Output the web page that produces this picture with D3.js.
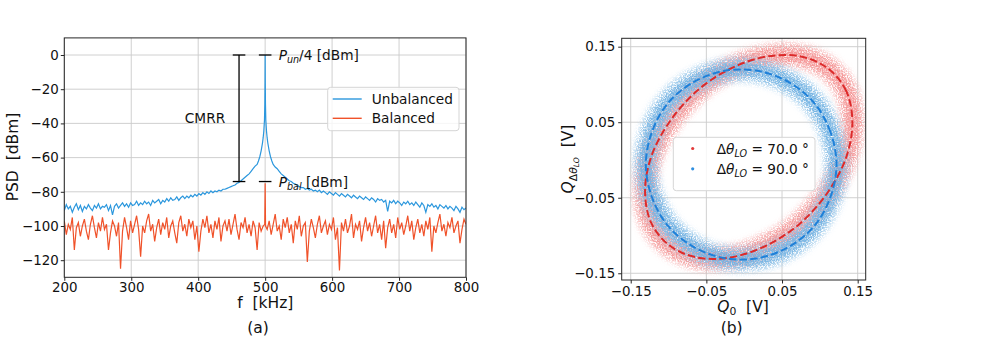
<!DOCTYPE html>
<html>
<head>
<meta charset="utf-8">
<script src="https://cdn.jsdelivr.net/npm/d3@7"></script>
<style>
    body { margin: 0; background: #fff; }
    svg { font-family: "DejaVu Sans", sans-serif; }
    text { white-space: pre; }
    .axis line { stroke: #262626; }
    .axis text { font-family: "DejaVu Sans", sans-serif; font-size: 13.4px; fill: #111; }
    .grid line { stroke: #cbcbcb; stroke-width: 0.9; }
    .lbl { font-size: 15.5px; fill: #111; }
    .leg { font-size: 13.7px; fill: #111; }
</style>
</head>
<body>
<svg width="997" height="338"></svg>
<script>
// ---- (a) PSD data, 200..800 kHz every 3 kHz ----
var freq = d3.range(200, 801, 3);

var unbalanced = [
    -91, -87.5, -90, -88.5, -92, -89, -87, -90.5, -88, -91.5,
    -88.5, -90, -87.5, -89.5, -91, -88, -89.5, -87, -90, -88.5,
    -89, -87.5, -91, -88, -93.5, -88.5, -87, -89.5, -88, -86.5,
    -88.5, -87, -89, -86.5, -88, -87.5, -85.5, -88, -86.5, -87.5,
    -85.5, -87, -86, -88, -85, -86.5, -85.5, -84.5, -87, -85,
    -86, -84, -85.5, -83.5, -85, -84.5, -83, -85, -83.5, -82.5,
    -84, -82.5, -83.5, -82, -83, -81.5, -82.5, -81, -82, -80.5,
    -81.5, -80, -81, -79.5, -80.5, -79.5, -80, -79, -79.5, -78.5,
    -78.5, -78, -77.5, -77, -76.5, -76, -75, -74.5, -73.5, -72.5,
    -71.5, -70.5, -69.5, -68, -66.5, -65, -63, -61, -57, -49,
    0, -49, -57, -61, -63, -65.5, -66.5, -68, -69.5, -70.5,
    -71.5, -72.5, -73.5, -74, -75, -75.5, -76.5, -77, -77.5, -77.5,
    -78.5, -78, -79, -78.5, -79.5, -79, -80, -79, -80.5, -79.5,
    -80.5, -81.5, -80, -81, -82, -80.5, -81.5, -82.5, -81, -82,
    -83, -81.5, -82.5, -83.5, -82, -83, -84, -82.5, -83.5, -84.5,
    -83, -84, -85, -83.5, -84.5, -86, -84, -85, -84.5, -86,
    -85, -91.5, -85.5, -86.5, -85, -87, -85.5, -86.5, -88, -86,
    -87, -85.5, -87.5, -86.5, -88, -86, -87.5, -89, -86.5, -88,
    -92, -87.5, -88.5, -87, -89, -88, -90, -87.5, -88.5, -89.5,
    -88, -90, -88.5, -89.5, -91, -88.5, -90, -92, -89, -90.5,
    -89.5
];

var balanced = [
    -97, -105, -99, -102, -95, -114, -101, -98, -106, -100,
    -96, -103, -108, -99, -94, -101, -107, -98, -103, -95,
    -102, -99, -114, -104, -97, -100, -106, -98, -125, -103,
    -95, -101, -108, -97, -104, -99, -94, -102, -118, -100,
    -104, -97, -93, -103, -99, -109, -101, -96, -105, -98,
    -102, -95, -107, -100, -97, -104, -110, -98, -94, -103,
    -99, -106, -96, -101, -97, -108, -100, -115, -103, -96,
    -101, -94, -104, -99, -107, -97, -102, -95, -109, -100,
    -97, -103, -96, -105, -99, -93, -102, -108, -98, -101,
    -95, -104, -99, -106, -97, -101, -114, -98, -103, -100,
    -75, -102, -97, -105, -99, -93, -103, -100, -108, -96,
    -101, -95, -104, -99, -110, -97, -102, -94, -106, -100,
    -98, -121, -103, -96, -101, -107, -99, -94, -104, -100,
    -97, -105, -99, -102, -95, -108, -101, -126, -98, -103,
    -96, -104, -100, -93, -107, -99, -102, -97, -109, -101,
    -95, -103, -98, -106, -100, -94, -104, -99, -108, -97,
    -113, -101, -96, -104, -99, -107, -95, -102, -98, -105,
    -100, -94, -103, -97, -108, -101, -96, -104, -99, -106,
    -97, -102, -95, -115, -100, -104, -98, -93, -103, -99,
    -106, -98, -101, -95, -104, -100, -97, -110, -102, -96,
    -99
];

// finer points around the carrier peak
var peakFreq = [488, 490, 492, 494, 496, 497, 498, 499, 499.5, 499.8, 500, 500.2, 500.5, 501, 502, 503, 504, 506, 508, 510, 512];
var peakUnb = [-64, -62, -59.5, -56, -51.5, -48.5, -44.5, -38, -29, -16, 0, -16, -29, -38, -44.5, -48.5, -51.5, -56, -59.5, -62, -64];
var peakBalFreq = [499.4, 500, 500.6];
var peakBal = [-99, -75, -100];

var xTicksA = [200, 300, 400, 500, 600, 700, 800];
var yTicksA = [0, -20, -40, -60, -80, -100, -120];

// ---- (b) quadrature ellipses, points read around the dashed fits ----
var red70X = [0.143, 0.135, 0.111, 0.075, 0.030, -0.018, -0.063, -0.099, -0.123, -0.131, -0.123, -0.099, -0.063, -0.018, 0.030, 0.075, 0.111, 0.135];
var red70Y = [0.050, 0.091, 0.121, 0.137, 0.137, 0.121, 0.091, 0.050, 0.004, -0.042, -0.083, -0.113, -0.129, -0.129, -0.113, -0.083, -0.042, 0.004];
var blue90X = [0.122, 0.114, 0.093, 0.059, 0.018, -0.026, -0.067, -0.101, -0.122, -0.130, -0.122, -0.101, -0.067, -0.026, 0.018, 0.059, 0.093, 0.114];
var blue90Y = [-0.006, 0.037, 0.075, 0.103, 0.118, 0.118, 0.103, 0.075, 0.037, -0.006, -0.049, -0.087, -0.115, -0.130, -0.130, -0.115, -0.087, -0.049];

var ticksB = [-0.15, -0.05, 0.05, 0.15];

var svg = d3.select("svg");
var defs = svg.append("defs");

// ================= panel (a) =================
var xA = d3.scaleLinear().domain([200, 800]).range([64.3, 466]),
    yA = d3.scaleLinear().domain([-130, 10]).range([277.3, 37.9]);

defs.append("clipPath").attr("id", "clipA")
    .append("rect")
    .attr("x", xA(200)).attr("y", yA(10))
    .attr("width", xA(800) - xA(200)).attr("height", yA(-130) - yA(10));

var gA = svg.append("g");

gA.append("g").attr("class", "grid")
    .selectAll("line").data(xTicksA).enter().append("line")
    .attr("x1", function (d) { return xA(d); }).attr("x2", function (d) { return xA(d); })
    .attr("y1", yA(10)).attr("y2", yA(-130));
gA.append("g").attr("class", "grid")
    .selectAll("line").data(yTicksA).enter().append("line")
    .attr("y1", function (d) { return yA(d); }).attr("y2", function (d) { return yA(d); })
    .attr("x1", xA(200)).attr("x2", xA(800));

function byF(a, b) { return a[0] - b[0]; }

var unbPts = freq.map(function (f, i) { return [f, unbalanced[i]]; })
    .filter(function (p) { return p[0] < 487 || p[0] > 513; })
    .concat(peakFreq.map(function (f, i) { return [f, peakUnb[i]]; }))
    .sort(byF);
var balPts = freq.map(function (f, i) { return [f, balanced[i]]; })
    .filter(function (p) { return p[0] !== 500; })
    .concat(peakBalFreq.map(function (f, i) { return [f, peakBal[i]]; }))
    .sort(byF);

var lineA = d3.line()
    .x(function (d) { return xA(d[0]); })
    .y(function (d) { return yA(d[1]); });

var dataA = gA.append("g").attr("clip-path", "url(#clipA)");
dataA.append("path").datum(unbPts)
    .attr("d", lineA).attr("fill", "none")
    .attr("stroke", "#2b97dd").attr("stroke-width", 1.2);
dataA.append("path").datum(balPts)
    .attr("d", lineA).attr("fill", "none")
    .attr("stroke", "#f0522a").attr("stroke-width", 1.2);

// CMRR bracket and level markers
var cmrrF = 461, peakF = 500, topDb = 0, botDb = -74;
var ann = gA.append("g").attr("stroke", "#000").attr("stroke-width", 1.3);
ann.append("line").attr("x1", xA(cmrrF)).attr("x2", xA(cmrrF)).attr("y1", yA(topDb)).attr("y2", yA(botDb));
[[cmrrF, topDb], [cmrrF, botDb], [peakF, topDb], [peakF, botDb]].forEach(function (c) {
    ann.append("line")
        .attr("x1", xA(c[0]) - 6.3).attr("x2", xA(c[0]) + 6.3)
        .attr("y1", yA(c[1])).attr("y2", yA(c[1]));
});

var tUn = gA.append("text").attr("class", "leg").attr("x", xA(peakF) + 13.5).attr("y", yA(topDb) + 5);
tUn.append("tspan").attr("font-style", "italic").text("P");
tUn.append("tspan").attr("font-style", "italic").attr("font-size", "9.6px").attr("dy", 3).text("un");
tUn.append("tspan").attr("dy", -3).text("/4 [dBm]");

var tBal = gA.append("text").attr("class", "leg").attr("x", xA(peakF) + 13.5).attr("y", yA(botDb) + 5);
tBal.append("tspan").attr("font-style", "italic").text("P");
tBal.append("tspan").attr("font-style", "italic").attr("font-size", "9.6px").attr("dy", 3).text("bal");
tBal.append("tspan").attr("dy", -3).text(" [dBm]");

gA.append("text").attr("class", "leg").attr("x", 205).attr("y", 123)
    .attr("text-anchor", "middle").text("CMRR");

// axes
var axA = gA.append("g").attr("class", "axis").attr("transform", "translate(0," + yA(-130) + ")")
    .call(d3.axisBottom(xA).tickValues(xTicksA).tickSize(3.5).tickPadding(2).tickSizeOuter(0));
axA.select(".domain").remove();
var ayA = gA.append("g").attr("class", "axis").attr("transform", "translate(" + xA(200) + ",0)")
    .call(d3.axisLeft(yA).tickValues(yTicksA).tickSize(3.5).tickPadding(2).tickSizeOuter(0));
ayA.select(".domain").remove();
gA.append("rect")
    .attr("x", xA(200)).attr("y", yA(10))
    .attr("width", xA(800) - xA(200)).attr("height", yA(-130) - yA(10))
    .attr("fill", "none").attr("stroke", "#262626").attr("stroke-width", 1);

gA.append("text").attr("class", "lbl").attr("x", 265.3).attr("y", 308)
    .attr("text-anchor", "middle").text("f  [kHz]");
gA.append("text").attr("class", "lbl")
    .attr("transform", "translate(17.5,157) rotate(-90)")
    .attr("text-anchor", "middle").text("PSD  [dBm]");
gA.append("text").attr("class", "lbl").attr("x", 258).attr("y", 333)
    .attr("text-anchor", "middle").text("(a)");

// legend (a)
var legA = gA.append("g");
legA.append("rect").attr("x", 327.7).attr("y", 87.3).attr("width", 131.3).attr("height", 43.4)
    .attr("rx", 3).attr("fill", "#fff").attr("fill-opacity", 0.8).attr("stroke", "#d5d5d5");
[["Unbalanced", "#2b97dd", 99], ["Balanced", "#f0522a", 118.3]].forEach(function (r) {
    legA.append("line").attr("x1", 332.7).attr("x2", 361.7).attr("y1", r[2]).attr("y2", r[2])
        .attr("stroke", r[1]).attr("stroke-width", 1.4);
    legA.append("text").attr("class", "leg").attr("x", 371.7).attr("y", r[2] + 5).text(r[0]);
});

// ================= panel (b) =================
var xB = d3.scaleLinear().domain([-0.1619, 0.1606]).range([621.7, 865.7]),
    yB = d3.scaleLinear().domain([-0.1589, 0.1611]).range([280, 38.3]);

defs.append("clipPath").attr("id", "clipB")
    .append("rect")
    .attr("x", 621.7).attr("y", 38.3).attr("width", 244).attr("height", 241.7);

// grainy texture for the dense point clouds
function speckle(id, seed, blur, gain, off) {
    var f = defs.append("filter").attr("id", id)
        .attr("filterUnits", "userSpaceOnUse")
        .attr("x", 600).attr("y", 20).attr("width", 290).attr("height", 280);
    f.append("feGaussianBlur").attr("in", "SourceGraphic").attr("stdDeviation", blur).attr("result", "soft");
    f.append("feTurbulence").attr("type", "fractalNoise").attr("baseFrequency", 0.8)
        .attr("numOctaves", 2).attr("seed", seed).attr("result", "noise");
    f.append("feColorMatrix").attr("in", "noise").attr("type", "matrix")
        .attr("values", "0 0 0 0 0  0 0 0 0 0  0 0 0 0 0  " + gain + " 0 0 0 " + off)
        .attr("result", "mask");
    f.append("feComposite").attr("in", "soft").attr("in2", "mask").attr("operator", "in");
}
speckle("speckR", 3, 3, 4, -1.4);
speckle("speckB", 8, 3, 4, -1.4);
speckle("coreR", 5, 1.5, 4, -1.0);
speckle("coreB", 11, 1.5, 4, -1.0);

var gB = svg.append("g");

gB.append("g").attr("class", "grid")
    .selectAll("line").data(ticksB).enter().append("line")
    .attr("x1", function (d) { return xB(d); }).attr("x2", function (d) { return xB(d); })
    .attr("y1", 38.3).attr("y2", 280);
gB.append("g").attr("class", "grid")
    .selectAll("line").data(ticksB).enter().append("line")
    .attr("y1", function (d) { return yB(d); }).attr("y2", function (d) { return yB(d); })
    .attr("x1", 621.7).attr("x2", 865.7);

var lineB = d3.line()
    .x(function (d) { return xB(d[0]); })
    .y(function (d) { return yB(d[1]); })
    .curve(d3.curveCatmullRomClosed);

var redPts = red70X.map(function (x, i) { return [x, red70Y[i]]; });
var bluePts = blue90X.map(function (x, i) { return [x, blue90Y[i]]; });

var dataB = gB.append("g").attr("clip-path", "url(#clipB)");

// point clouds
[[redPts, "#f48a8a", "#f6a6a6", "R"], [bluePts, "#5aa5de", "#8fc2e8", "B"]].forEach(function (c) {
    dataB.append("path").datum(c[0]).attr("d", lineB).attr("fill", "none")
        .attr("stroke", c[2]).attr("stroke-width", 24).attr("filter", "url(#speck" + c[3] + ")");
    dataB.append("path").datum(c[0]).attr("d", lineB).attr("fill", "none")
        .attr("stroke", c[1]).attr("stroke-width", 13).attr("stroke-opacity", 0.5)
        .attr("filter", "url(#core" + c[3] + ")");
});

// fitted ellipses
dataB.append("path").datum(redPts).attr("d", lineB).attr("fill", "none")
    .attr("stroke", "#dc2b2b").attr("stroke-width", 2).attr("stroke-dasharray", "7.4,3.2");
dataB.append("path").datum(bluePts).attr("d", lineB).attr("fill", "none")
    .attr("stroke", "#1f80d8").attr("stroke-width", 2).attr("stroke-dasharray", "7.4,3.2");

var axB = gB.append("g").attr("class", "axis").attr("transform", "translate(0,280)")
    .call(d3.axisBottom(xB).tickValues(ticksB).tickFormat(d3.format(".2f")).tickSize(3.5).tickPadding(3).tickSizeOuter(0));
axB.select(".domain").remove();
var ayB = gB.append("g").attr("class", "axis").attr("transform", "translate(621.7,0)")
    .call(d3.axisLeft(yB).tickValues(ticksB).tickFormat(d3.format(".2f")).tickSize(3.5).tickPadding(3).tickSizeOuter(0));
ayB.select(".domain").remove();
gB.append("rect").attr("x", 621.7).attr("y", 38.3).attr("width", 244).attr("height", 241.7)
    .attr("fill", "none").attr("stroke", "#262626").attr("stroke-width", 1);

var tQ0 = gB.append("text").attr("class", "lbl").attr("x", 743).attr("y", 312).attr("text-anchor", "middle");
tQ0.append("tspan").attr("font-style", "italic").text("Q");
tQ0.append("tspan").attr("font-size", "10.8px").attr("dy", 2.5).text("0");
tQ0.append("tspan").attr("dy", -2.5).text("  [V]");

var tQy = gB.append("text").attr("class", "lbl")
    .attr("transform", "translate(573,159) rotate(-90)").attr("text-anchor", "middle");
tQy.append("tspan").attr("font-style", "italic").text("Q");
tQy.append("tspan").attr("font-size", "10.8px").attr("dy", 3.5).text("Δ");
tQy.append("tspan").attr("font-size", "10.8px").attr("font-style", "italic").text("θ");
tQy.append("tspan").attr("font-size", "7.6px").attr("font-style", "italic").attr("dy", 2.5).text("LO");
tQy.append("tspan").attr("dy", -6).text("  [V]");

gB.append("text").attr("class", "lbl").attr("x", 731.7).attr("y", 333)
    .attr("text-anchor", "middle").text("(b)");

// legend (b)
var legB = gB.append("g");
legB.append("rect").attr("x", 673.3).attr("y", 137.3).attr("width", 141.7).attr("height", 53.4)
    .attr("rx", 3).attr("fill", "#fff").attr("fill-opacity", 0.8).attr("stroke", "#d5d5d5");
[["70.0", "#e23a3a", 148.5], ["90.0", "#2f8fe0", 168.8]].forEach(function (r) {
    legB.append("circle").attr("cx", 692.7).attr("cy", r[2]).attr("r", 1.6).attr("fill", r[1]);
    var t = legB.append("text").attr("class", "leg").attr("x", 716.7).attr("y", r[2] + 5);
    t.append("tspan").text("Δ");
    t.append("tspan").attr("font-style", "italic").text("θ");
    t.append("tspan").attr("font-style", "italic").attr("font-size", "9.6px").attr("dy", 3).text("LO");
    t.append("tspan").attr("dy", -3).text(" = " + r[0] + " °");
});
</script>
</body>
</html>
